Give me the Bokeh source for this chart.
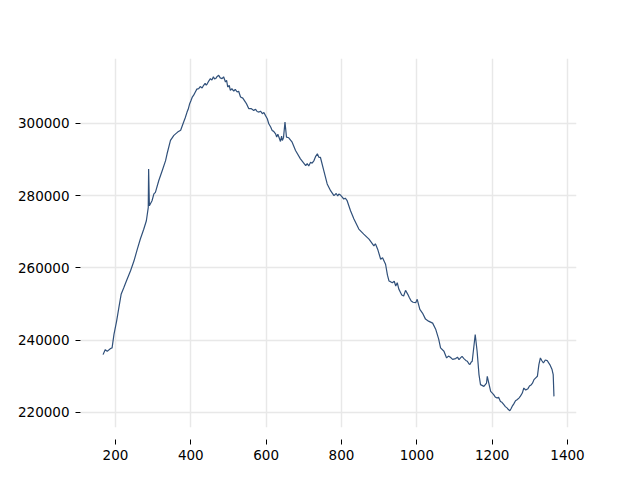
from bokeh.plotting import figure
from bokeh.models import Range1d, BasicTickFormatter, FixedTicker
from bokeh.embed import file_html
from bokeh.resources import INLINE

# x positions (sample index) and values
xs = [167, 173, 178, 187, 191, 196, 203, 209, 215, 222, 229, 240, 249, 258, 266, 275, 282, 287,
      288, 290, 297, 302, 306, 315, 324, 333, 337, 346, 355, 365, 373,
      381, 385, 390, 393, 397, 400, 404, 408, 412, 416, 421, 425, 430, 434, 438, 441, 444, 448,
      452, 456, 460, 463, 466, 470, 474, 478, 483, 487, 492, 495, 498, 502, 505, 509, 514, 518,
      523, 527, 532, 538, 545, 549, 554, 560, 567, 572, 576, 581, 585, 590, 594, 598,
      603, 607, 612, 616, 620, 625, 628, 631, 634, 638, 641, 643, 646, 650, 654,
      660, 669, 678, 691, 705, 709, 713, 718, 722, 727, 731, 736, 740, 744,
      753, 762, 771, 780, 786, 790, 793, 798, 802, 806, 810, 815, 824, 833, 846, 859, 873,
      886, 890, 896, 904, 909, 917, 922, 926, 930, 935, 940, 944, 948, 952, 957, 960, 965, 970,
      976, 980, 985, 990, 997, 1001, 1008, 1015, 1023, 1031, 1042, 1050, 1058, 1063, 1072,
      1079, 1084, 1089, 1095, 1103, 1108, 1112, 1116, 1120, 1125, 1130, 1134, 1138, 1141, 1144,
      1147, 1155, 1160, 1165, 1169, 1178, 1185, 1187, 1191, 1196,
      1204, 1208, 1213, 1217, 1222, 1226, 1231, 1235, 1240, 1243, 1247, 1250, 1253, 1257, 1262,
      1266, 1271, 1275, 1280, 1284, 1289, 1295, 1299, 1304, 1307, 1311, 1315, 1320,
      1324, 1328, 1332, 1336, 1341, 1346, 1350, 1353, 1359, 1362, 1364]
ys = [236000, 237400, 236900, 237700, 237860, 241600, 245300, 249000, 252700, 254500, 256400,
      259200, 261900, 265200, 268000, 270700, 273050, 276700,
      287400, 277200, 278600, 280500, 280900, 284200, 286900, 289700, 291600, 295300, 296700,
      297600, 298100,
      300400, 301500, 303140, 303900, 305470, 306200, 307300, 307900, 308700, 309500, 309640,
      310200, 309800, 310560, 311100, 310600, 311030, 311800,
      312420, 312000, 312900, 312300, 312420, 313000, 313330, 312600, 312420, 312900, 311470,
      311900, 310080, 310500, 309170, 309600, 308970, 309400,
      308700, 308900, 307300, 307000, 305920, 305200, 304080, 304100, 303610, 303900, 303300,
      303140, 303400, 302700, 303000, 302220,
      301300, 299920, 299000, 298050, 297800, 297140, 296200, 297000, 296190, 295000, 296500,
      295280, 296000, 300360, 296190,
      296030, 294800, 292500, 290190, 288330, 288900, 288200, 289250, 289000, 289720, 290800,
      291580, 290600, 290640,
      286940, 283250, 281390, 280000, 280600, 279900, 280470, 280100, 279600, 279080, 279300,
      278610, 275830, 273530, 270750, 269360, 267970,
      266110, 266700, 265190, 262410, 262800, 261020, 258000, 256390, 256200, 255910, 256300,
      255000, 255910, 254200, 253140, 252500, 252220, 253800,
      252690, 251800, 250830, 250500, 250360, 251300, 248520, 247500, 245830, 245270, 244720,
      243050, 240280, 237860, 236940,
      235080, 235600, 235270, 234700, 234910, 235300, 234600, 235080, 235500, 234910, 234400,
      234160, 233500, 233250, 233900,
      234160, 241580, 236940, 230470, 227690, 227220, 228140, 230000, 228140, 225830,
      224910, 224300, 223970, 224200, 223050, 222800, 222130, 221600, 221190, 220800, 220470,
      221000, 221660, 222300, 223240,
      223500, 223970, 224500, 225360, 226750, 226200, 226580, 227300, 227690, 228100, 229080,
      229500, 230000,
      233250, 235080, 234300, 233690, 234500, 234360, 233700, 233250, 231860, 230470, 224440]

x_ticks = [200, 400, 600, 800, 1000, 1200, 1400]
y_ticks = [220000, 240000, 260000, 280000, 300000]

xmin, xmax = min(xs), max(xs)
ymin, ymax = min(ys), max(ys)
xpad = 0.05 * (xmax - xmin)
ypad = 0.05 * (ymax - ymin)

p = figure(width=632, height=472, output_backend="svg", toolbar_location=None,
           x_range=Range1d(xmin - xpad, xmax + xpad),
           y_range=Range1d(ymin - ypad, ymax + ypad),
           min_border_left=80, min_border_right=56, min_border_top=58, min_border_bottom=45)
p.outline_line_color = None
p.background_fill_color = "white"
p.border_fill_color = "white"

p.line(xs, ys, line_color="#30507a", line_width=1.2)

for ax in (p.xaxis, p.yaxis):
    ax.axis_line_color = None
    ax.major_tick_line_color = "#000000"
    ax.major_tick_line_width = 1
    ax.minor_tick_line_color = None
    ax.major_label_text_font = "DejaVu Sans"
    ax.major_label_text_font_size = "13.5px"
    ax.major_label_text_color = "#000000"

p.xaxis.ticker = FixedTicker(ticks=x_ticks)
p.yaxis.ticker = FixedTicker(ticks=y_ticks)
p.yaxis.formatter = BasicTickFormatter(use_scientific=False)

p.xaxis.major_tick_in = -12
p.xaxis.major_tick_out = 17
p.xaxis.major_label_standoff = 5
p.yaxis.major_tick_in = 0
p.yaxis.major_tick_out = 5
p.yaxis.major_label_standoff = 6

p.xgrid.grid_line_color = "#e8e8e8"
p.ygrid.grid_line_color = "#e8e8e8"
p.xgrid.grid_line_width = 1.5
p.ygrid.grid_line_width = 1.5

open("out.html", "w").write(file_html(p, INLINE))
